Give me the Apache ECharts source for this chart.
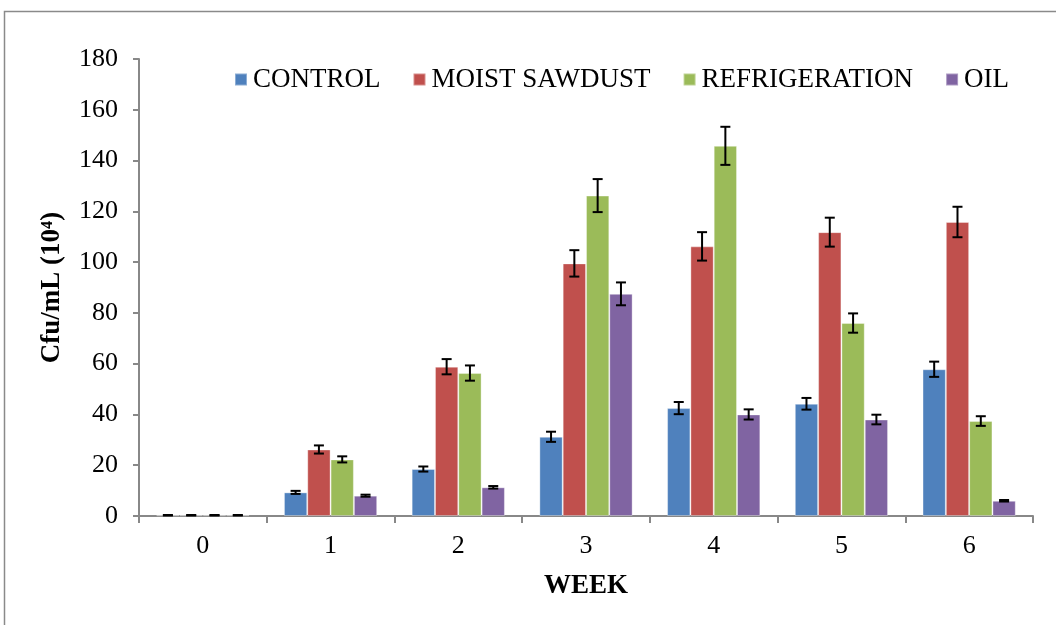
<!DOCTYPE html>
<html>
<head>
<meta charset="utf-8">
<script src="https://cdn.jsdelivr.net/npm/echarts@6/dist/echarts.min.js"></script>
<style>
html,body{margin:0;padding:0;background:#fff;}
#chart{width:1056px;height:625px;}
</style>
</head>
<body>
<div id="chart"></div>
<script>
const weeks = ['0','1','2','3','4','5','6'];
const seriesNames = ['CONTROL','MOIST SAWDUST','REFRIGERATION','OIL'];
const control      = [0.3, 9.3, 18.5, 31.2, 42.5, 44.2, 57.8];
const moistSawdust = [0.3, 26.2, 58.8, 99.5, 106.2, 111.8, 115.8];
const refrigeration= [0.3, 22.3, 56.3, 126.2, 145.8, 76.0, 37.4];
const oil          = [0.3, 8.0, 11.3, 87.5, 40.0, 38.0, 6.0];
const controlErr      = [0.1, 0.6, 1.0, 2.0, 2.4, 2.3, 3.0];
const moistSawdustErr = [0.1, 1.6, 3.0, 5.2, 5.6, 5.7, 6.0];
const refrigerationErr= [0.1, 1.2, 3.0, 6.5, 7.5, 3.8, 1.9];
const oilErr          = [0.1, 0.4, 0.5, 4.5, 2.0, 1.9, 0.3];
const yTicks = [0,20,40,60,80,100,120,140,160,180];

const colors = ['#4F81BD','#C0504D','#9BBB59','#8064A2'];
const values = [control, moistSawdust, refrigeration, oil];
const errs = [controlErr, moistSawdustErr, refrigerationErr, oilErr];
const catGap = 0.27;
const font = '"Liberation Serif","Times New Roman",serif';

const chart = echarts.init(document.getElementById('chart'), null, {renderer:'canvas'});

const barSeries = seriesNames.map((n,i)=>({
  name:n, type:'bar', data: values[i], barGap:'0%', barCategoryGap:(catGap*100)+'%',
  itemStyle:{color:colors[i], borderColor:'rgba(255,255,255,0.35)', borderWidth:1},
  z:2
}));

const errSeries = seriesNames.map((n,i)=>({
  type:'custom', name:n+'_err', z:5, silent:true,
  data: values[i].map((v,k)=>[k, v - errs[i][k], v + errs[i][k]]),
  encode:{x:0, y:[1,2]},
  renderItem:function(params, api){
    const k = api.value(0);
    const lo = api.coord([k, api.value(1)]);
    const hi = api.coord([k, api.value(2)]);
    const band = api.size([1,0])[0];
    const groupW = band*(1-catGap);
    const barW = groupW/4;
    const x = lo[0] - groupW/2 + barW*(i+0.5);
    const cap = 5;
    const st = {stroke:'#000', lineWidth:2};
    return {type:'group', children:[
      {type:'line', shape:{x1:x,y1:lo[1],x2:x,y2:hi[1]}, style:st},
      {type:'line', shape:{x1:x-cap,y1:lo[1],x2:x+cap,y2:lo[1]}, style:st},
      {type:'line', shape:{x1:x-cap,y1:hi[1],x2:x+cap,y2:hi[1]}, style:st}
    ]};
  }
}));

chart.setOption({
  animation:false,
  backgroundColor:'#fff',
  textStyle:{fontFamily:font},
  graphic:[{type:'rect', shape:{x:4.5,y:11.5,width:1100,height:700}, style:{fill:null, stroke:'#8a8a8a', lineWidth:1.5}, silent:true}],
  legend:{
    data:seriesNames, left:229, top:61, icon:'rect', itemWidth:12, itemHeight:12, itemGap:32,
    textStyle:{fontFamily:font, fontSize:27, color:'#000', padding:[0,0,0,1]}
  },
  grid:{left:139, right:23, top:59, bottom:109, containLabel:false},
  xAxis:{
    type:'category', data:weeks,
    name:'WEEK', nameLocation:'middle', nameGap:57,
    nameTextStyle:{fontFamily:font, fontSize:27, fontWeight:'bold', color:'#000'},
    axisLine:{lineStyle:{color:'#888', width:2}},
    axisTick:{show:true, length:7, lineStyle:{color:'#888', width:2}},
    axisLabel:{fontFamily:font, fontSize:26, color:'#000', margin:17},
    splitLine:{show:false}
  },
  yAxis:{
    type:'value', min:0, max:180, interval:20,
    name:'Cfu/mL (10⁴)', nameLocation:'middle', nameGap:73, nameRotate:90,
    nameTextStyle:{fontFamily:font, fontSize:27, fontWeight:'bold', color:'#000'},
    axisLine:{show:true, lineStyle:{color:'#888', width:2}},
    axisTick:{show:true, length:6, lineStyle:{color:'#888', width:2}},
    axisLabel:{fontFamily:font, fontSize:26, color:'#000', margin:21},
    splitLine:{show:false}
  },
  series: barSeries.concat(errSeries)
});
</script>
</body>
</html>
